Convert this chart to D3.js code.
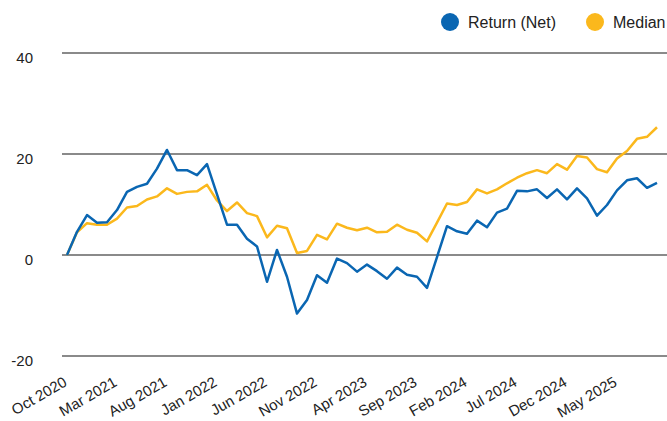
<!DOCTYPE html>
<html>
<head>
<meta charset="utf-8">
<script src="https://cdn.jsdelivr.net/npm/d3@7"></script>
<style>
  body { margin: 0; background: #fff; }
  svg { font-family: "Liberation Sans", Arial, sans-serif; }
</style>
</head>
<body>
<svg id="chart" width="667" height="421"></svg>
<script>
// monthly, Oct 2020 .. Sep 2025
var monthNames = ["Jan","Feb","Mar","Apr","May","Jun","Jul","Aug","Sep","Oct","Nov","Dec"]
var months = d3.range(60).map(function(i) {
  var m = (9 + i) % 12, y = 2020 + Math.floor((9 + i) / 12)
  return monthNames[m] + " " + y
})

var returnNet = [0, 4.6, 7.9, 6.4, 6.5, 8.9, 12.5, 13.5, 14.1, 17.1,
  20.8, 16.8, 16.8, 15.8, 18.0, 12.0, 6.0, 6.0, 3.2, 1.7,
  -5.3, 1.0, -4.3, -11.6, -8.9, -4.0, -5.5, -0.7, -1.6, -3.3,
  -1.9, -3.2, -4.7, -2.5, -3.9, -4.3, -6.5, -0.4, 5.7, 4.7,
  4.2, 6.8, 5.5, 8.4, 9.2, 12.7, 12.6, 13.0, 11.3, 13.0,
  11.0, 13.2, 11.2, 7.8, 9.9, 12.8, 14.8, 15.2, 13.3, 14.3]

var median = [0, 4.5, 6.3, 6.0, 6.0, 7.2, 9.4, 9.7, 11.0, 11.6,
  13.2, 12.1, 12.5, 12.6, 13.9, 10.8, 8.7, 10.4, 8.3, 7.7,
  3.5, 5.8, 5.3, 0.4, 0.8, 4.0, 3.1, 6.2, 5.4, 4.9,
  5.4, 4.5, 4.6, 6.0, 5.0, 4.4, 2.7, 6.4, 10.2, 9.9,
  10.5, 13.0, 12.2, 13.0, 14.2, 15.3, 16.2, 16.8, 16.2, 18.0,
  16.9, 19.6, 19.3, 17.0, 16.4, 19.1, 20.6, 23.0, 23.4, 25.3]

var yTicks = [-20, 0, 20, 40]
var xTickMonths = d3.range(0, 60, 5).map(function(i) { return months[i] })

var seriesNames = ["Return (Net)", "Median"]
var colors = ["#0a66b2", "#fbb81c"]

var svg = d3.select("#chart")

var x = d3.scalePoint().domain(months).range([67, 657])
var y = d3.scaleLinear().domain([-20, 40]).range([356, 53])

// grid lines
svg.append("g").selectAll("line")
  .data(yTicks)
  .enter()
  .append("line")
  .attr("x1", 62).attr("x2", 667)
  .attr("y1", function(d) { return y(d) }).attr("y2", function(d) { return y(d) })
  .attr("stroke", "#8a8a8a")
  .attr("stroke-width", 2)

// y labels
svg.append("g").selectAll("text")
  .data(yTicks)
  .enter()
  .append("text")
  .attr("x", 33)
  .attr("y", function(d) { return y(d) + 10 })
  .attr("text-anchor", "end")
  .style("font-size", "15px")
  .style("fill", "#222")
  .text(function(d) { return d })

// x labels
svg.append("g").selectAll("text")
  .data(xTickMonths)
  .enter()
  .append("text")
  .attr("text-anchor", "end")
  .attr("transform", function(d) { return "translate(" + (x(d) + 1) + ",385) rotate(-30)" })
  .style("font-size", "15px")
  .style("fill", "#222")
  .text(function(d) { return d })

// lines
var line = d3.line()
  .x(function(d, i) { return x(months[i]) })
  .y(function(d) { return y(d) })

;[median, returnNet].forEach(function(s, k) {
  svg.append("path")
    .datum(s)
    .attr("d", line)
    .attr("fill", "none")
    .attr("stroke", k == 0 ? colors[1] : colors[0])
    .attr("stroke-width", 2.5)
    .attr("stroke-linejoin", "round")
})

// legend
var legendX = [450, 595]
var legend = svg.selectAll(".legend")
  .data(seriesNames)
  .enter()
  .append("g")
  .attr("class", "legend")
  .attr("transform", function(d, i) { return "translate(" + legendX[i] + ",22)" })

legend.append("circle")
  .attr("r", 9)
  .attr("fill", function(d, i) { return colors[i] })

legend.append("text")
  .attr("x", 18)
  .attr("y", 5.5)
  .style("font-size", "16px")
  .style("fill", "#222")
  .text(function(d) { return d })
</script>
</body>
</html>
